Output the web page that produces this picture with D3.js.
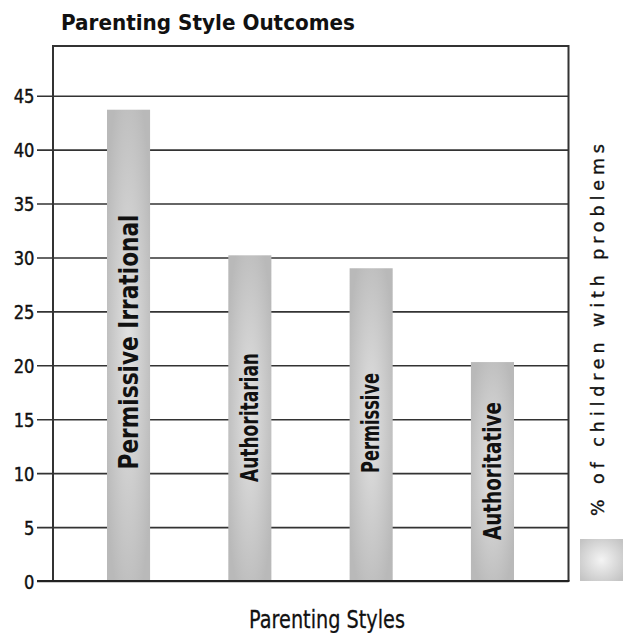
<!DOCTYPE html>
<html><head><meta charset="utf-8">
<script src="https://cdn.jsdelivr.net/npm/d3@7"></script>
<style>body{margin:0;background:#fff}</style>
</head><body>
<svg id="c" width="625" height="633"></svg>
<script>
const categories = ["Permissive Irrational","Authoritarian","Permissive","Authoritative"];
const values = [43.7, 30.2, 29.0, 20.3];
const ticks = [0,5,10,15,20,25,30,35,40,45];
const title = "Parenting Style Outcomes";
const xTitle = "Parenting Styles";
const legendLabel = "% of children with problems";

(function(){
const svg = d3.select("#c");
const F = "'DejaVu Sans',sans-serif";
const L = 53, R = 568.5, T = 46, B = 581;

const y = d3.scaleLinear().domain([0,45]).range([B, 95.7]);
const x = d3.scaleBand().domain(categories).range([107, 514]).paddingInner(0.645).paddingOuter(0);

const defs = svg.append("defs");
const g = defs.append("radialGradient").attr("id","bg").attr("cx","50%").attr("cy","50%").attr("r","60%");
g.append("stop").attr("offset","0%").attr("stop-color","#e2e2e2");
g.append("stop").attr("offset","100%").attr("stop-color","#b9b9b9");
const lg = defs.append("radialGradient").attr("id","lg").attr("cx","50%").attr("cy","50%").attr("r","65%");
lg.append("stop").attr("offset","0%").attr("stop-color","#f4f4f4");
lg.append("stop").attr("offset","100%").attr("stop-color","#c4c4c4");

svg.append("text").attr("x",61).attr("y",30).attr("font-family",F).attr("font-weight","bold")
  .attr("font-size",21.5).attr("textLength",294).attr("lengthAdjust","spacingAndGlyphs")
  .attr("fill","#111").text(title);

const axis = d3.axisLeft(y).tickValues(ticks).tickSize(-(R-L)).tickSizeOuter(0).tickPadding(18);
const ga = svg.append("g").attr("transform",`translate(${L},0)`).call(axis);
ga.select(".domain").remove();
ga.selectAll(".tick line").attr("x1",-16).attr("stroke","#333").attr("stroke-width",1.6);
ga.selectAll(".tick text").attr("font-family",F).attr("font-size",20).attr("fill","#111")
  .attr("stroke","#111").attr("stroke-width",0.45)
  .attr("x",-18.5).attr("dy","0.36em")
  .attr("textLength",d=>String(d).length*10.4).attr("lengthAdjust","spacingAndGlyphs");

svg.append("path").attr("d",`M${L},${B}V${T}H${R}V${B}`)
  .attr("fill","none").attr("stroke","#333").attr("stroke-width",2);

svg.selectAll("rect.bar").data(categories).join("rect").attr("class","bar")
  .attr("x",d=>x(d)).attr("width",x.bandwidth())
  .attr("y",(d,i)=>y(values[i])).attr("height",(d,i)=>B-y(values[i]))
  .attr("fill","url(#bg)");

svg.append("line").attr("x1",37).attr("x2",R+1).attr("y1",B).attr("y2",B)
  .attr("stroke","#222").attr("stroke-width",1.8);

const labelPos = [342, 417.5, 423, 471];
const labelSize = [27, 24.5, 24, 24.5];
const labelLen = [255, 129, 100, 138];
const labelOff = [9.5, 8.5, 7.5, 8.5];
svg.selectAll("text.bl").data(categories).join("text").attr("class","bl")
  .attr("transform",(d,i)=>`translate(${x(d)+x.bandwidth()/2+labelOff[i]},${labelPos[i]}) rotate(-90)`)
  .attr("text-anchor","middle").attr("font-family",F).attr("font-weight","bold")
  .attr("font-size",(d,i)=>labelSize[i]).attr("textLength",(d,i)=>labelLen[i])
  .attr("lengthAdjust","spacingAndGlyphs")
  .attr("fill","#111").text(d=>d);

svg.append("rect").attr("x",580).attr("y",539).attr("width",43).attr("height",42).attr("fill","url(#lg)");
svg.append("text").attr("transform","translate(604,330) rotate(-90)").attr("text-anchor","middle")
  .attr("font-family",F).attr("font-size",17.5).attr("textLength",372).attr("lengthAdjust","spacing")
  .attr("stroke","#111").attr("stroke-width",0.35)
  .attr("fill","#111").text(legendLabel);

svg.append("text").attr("x",327).attr("y",628).attr("text-anchor","middle").attr("font-family",F)
  .attr("font-size",25).attr("textLength",156).attr("lengthAdjust","spacingAndGlyphs")
  .attr("stroke","#111").attr("stroke-width",0.3)
  .attr("fill","#111").text(xTitle);
})();
</script>
</body></html>
